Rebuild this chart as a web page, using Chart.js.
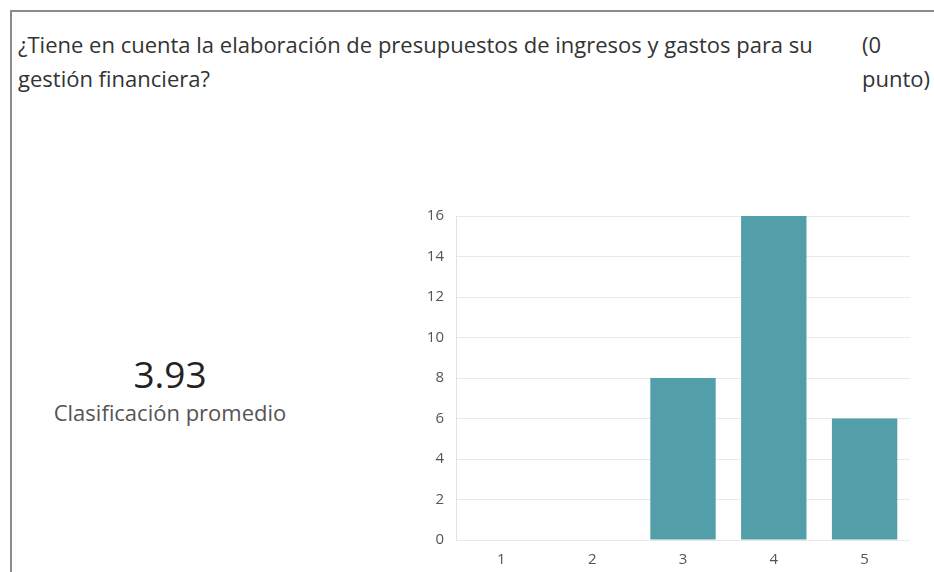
<!DOCTYPE html>
<html>
<head>
<meta charset="utf-8">
<script src="https://cdn.jsdelivr.net/npm/chart.js@4/dist/chart.umd.min.js"></script>
<style>
    body { margin: 0; width: 934px; height: 572px; overflow: hidden; background: #fff; font-family: "Open Sans", sans-serif; }
    .frame { position: absolute; left: 10px; top: 10px; width: 940px; height: 600px; border-left: 2px solid #8c8c8c; border-top: 2px solid #8c8c8c; }
    .question { position: absolute; left: 18px; top: 27px; width: 840px; font-size: 22px; line-height: 34px; color: #333; }
    .points { position: absolute; left: 862px; top: 27px; font-size: 22px; line-height: 34px; color: #333; }
    .avg { position: absolute; left: 0; width: 340px; top: 348px; text-align: center; font-size: 37px; color: #222; }
    .avgLabel { position: absolute; left: 0; width: 340px; top: 397px; text-align: center; font-size: 22px; color: #555; }
    .chartBox { position: absolute; left: 410px; top: 195px; width: 510px; height: 377px; }
</style>
</head>
<body>
<div class="frame"></div>
<div class="question">¿Tiene en cuenta la elaboración de presupuestos de ingresos y gastos para su<br>gestión financiera?</div>
<div class="points">(0<br>punto)</div>
<div class="avg" id="avgValue">3.93</div>
<div class="avgLabel">Clasificación promedio</div>
<div class="chartBox"><canvas id="ratingChart"></canvas></div>
<script>
const ratings = ['1', '2', '3', '4', '5'];
const counts = [0, 0, 8, 16, 6];
const yTicks = [0, 2, 4, 6, 8, 10, 12, 14, 16];

Chart.defaults.font.family = "'Open Sans', sans-serif";
Chart.defaults.font.size = 15;
Chart.defaults.color = '#555';

const ctx = document.getElementById('ratingChart').getContext('2d');
new Chart(ctx, {
    type: 'bar',
    data: {
        labels: ratings,
        datasets: [{
            label: 'Respuestas',
            data: counts,
            backgroundColor: '#529ea9',
            barPercentage: 0.72,
            categoryPercentage: 1
        }]
    },
    options: {
        responsive: true,
        maintainAspectRatio: false,
        animation: false,
        layout: { padding: { top: 3, right: 10 } },
        plugins: {
            legend: { display: false },
            tooltip: { enabled: false }
        },
        scales: {
            x: {
                grid: { display: false },
                border: { display: false },
                ticks: { padding: 3 },
                afterFit: (scale) => { scale.height = 32; }
            },
            y: {
                min: 0,
                max: 16,
                afterBuildTicks: (scale) => { scale.ticks = yTicks.map(v => ({ value: v })); },
                ticks: { padding: 12 },
                grid: { color: '#e9e9e9', drawTicks: false },
                border: { display: true, color: '#e3e3e3' },
                afterFit: (scale) => { scale.width = 46; }
            }
        }
    }
});
</script>
</body>
</html>
